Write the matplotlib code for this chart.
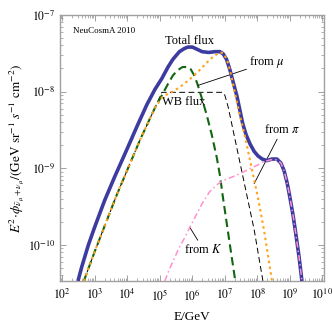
import numpy as np
import matplotlib
matplotlib.use("Agg")
import matplotlib.pyplot as plt
from matplotlib.ticker import FixedLocator, LogLocator, NullFormatter

plt.rcParams['font.family'] = ['Liberation Serif', 'DejaVu Serif']
plt.rcParams['mathtext.fontset'] = 'stix'

# log10(E/GeV), log10(E^2 phi)
total_logE = [2.48, 2.6, 2.8, 3.0, 3.3, 3.6, 4.0, 4.3, 4.6, 4.85, 5.06, 5.25, 5.4, 5.6, 5.75, 5.86, 6.0, 6.15, 6.3, 6.5, 6.7, 6.85,
              6.95, 7.05, 7.15, 7.25, 7.37, 7.46, 7.55, 7.65, 7.77, 7.9, 8.02, 8.15, 8.29, 8.45, 8.6, 8.72, 8.82, 8.92, 9.0,
              9.1, 9.18, 9.28, 9.37]
total_logF = [-10.47, -10.28, -10.0, -9.76, -9.42, -9.12, -8.74, -8.45, -8.17, -7.97, -7.83, -7.68, -7.58, -7.48, -7.44, -7.42,
              -7.42, -7.45, -7.48, -7.49, -7.48, -7.48, -7.51, -7.58, -7.71, -7.87, -8.06, -8.24, -8.42, -8.56, -8.68, -8.78,
              -8.84, -8.88, -8.90, -8.88, -8.88, -8.93, -9.03, -9.20, -9.38, -9.62, -9.85, -10.15, -10.47]

mu_logE = [2.66, 3.0, 3.68, 4.4, 4.85, 5.06, 5.25, 5.4, 5.55, 5.7, 5.85, 5.95, 6.07, 6.17, 6.3, 6.45, 6.6, 6.75, 6.85, 6.94,
           7.13, 7.32]
mu_logF = [-10.47, -10.08, -9.34, -8.62, -8.21, -8.05, -7.90, -7.79, -7.72, -7.68, -7.68, -7.71, -7.80, -7.92, -8.10, -8.32,
           -8.57, -8.86, -9.10, -9.38, -9.93, -10.47]

pi_logE = [2.66, 3.0, 3.68, 4.4, 4.85, 5.06, 5.2, 5.4, 5.65, 5.92, 6.2, 6.45, 6.65, 6.85, 6.95, 7.06, 7.13, 7.2, 7.3, 7.4,
           7.5, 7.6, 7.7, 7.8, 7.9, 8.0, 8.1, 8.2, 8.32, 8.45]
pi_logF = [-10.47, -10.08, -9.34, -8.62, -8.21, -8.08, -8.04, -8.00, -7.93, -7.84, -7.73, -7.62, -7.54, -7.49, -7.50, -7.58,
           -7.68, -7.80, -8.00, -8.20, -8.38, -8.55, -8.75, -8.95, -9.15, -9.35, -9.57, -9.80, -10.12, -10.47]

K_logE = [5.15, 5.3, 5.46, 5.6, 5.77, 5.92, 6.08, 6.3, 6.54, 6.8, 7.0, 7.25, 7.46, 7.8, 8.0, 8.17, 8.4, 8.6, 8.72, 8.82,
          8.92, 9.0, 9.1, 9.18, 9.28, 9.37]
K_logF = [-10.47, -10.31, -10.16, -10.03, -9.90, -9.77, -9.64, -9.46, -9.30, -9.20, -9.15, -9.11, -9.07, -9.00, -8.96, -8.92,
          -8.89, -8.89, -8.93, -9.03, -9.20, -9.38, -9.62, -9.85, -10.15, -10.47]

wb_logE = [2.66, 3.0, 3.68, 4.4, 4.85, 5.06, 6.94, 7.0, 7.1, 7.3, 7.6, 7.9, 8.17]
wb_logF = [-10.47, -10.08, -9.34, -8.62, -8.21, -8.01, -8.01, -8.05, -8.20, -8.60, -9.20, -9.80, -10.47]

x_tick_exps = [2, 3, 4, 5, 6, 7, 8, 9, 10]
y_tick_exps = [-10, -9, -8, -7]

def lin(a):
    return 10.0 ** np.asarray(a, dtype=float)

fig = plt.figure(figsize=(3.32, 3.23), dpi=100)
ax = fig.add_axes([0.181, 0.130, 0.795, 0.824])

ax.plot(lin(wb_logE), lin(wb_logF), color='black', lw=0.7, dashes=(6, 3.5), zorder=2)
ax.plot(lin(mu_logE), lin(mu_logF), color='#116611', lw=1.5, dashes=(4, 2.2), zorder=3)
ax.plot(lin(total_logE), lin(total_logF), color='#3c3ca0', lw=2.6, zorder=4, solid_capstyle='butt',
        solid_joinstyle='round')
ax.plot(lin(pi_logE), lin(pi_logF), color='#ffa31a', lw=1.5, dashes=(1.2, 1.6), zorder=5)
ax.plot(lin(K_logE), lin(K_logF), color='#ff8fcf', lw=1.1, dashes=(4, 2, 1, 2), zorder=6)

ax.set_xscale('log')
ax.set_yscale('log')
ax.set_xlim(10 ** 1.93, 10 ** 10.05)
ax.set_ylim(10 ** -10.47, 1e-7)

ax.xaxis.set_major_locator(FixedLocator(lin(x_tick_exps)))
ax.xaxis.set_minor_locator(LogLocator(base=10, subs=np.arange(2, 10), numticks=20))
ax.xaxis.set_minor_formatter(NullFormatter())
ax.yaxis.set_major_locator(FixedLocator(lin(y_tick_exps)))
ax.yaxis.set_minor_locator(LogLocator(base=10, subs=np.arange(2, 10), numticks=20))
ax.yaxis.set_minor_formatter(NullFormatter())
ax.set_xticklabels([r'$10^{%d}$' % e for e in x_tick_exps])
ax.set_yticklabels([r'$10^{%d}$' % e for e in y_tick_exps])

for s in ax.spines.values():
    s.set_color('#a0a0a0')
    s.set_linewidth(1.0)
ax.tick_params(which='both', direction='in', top=True, right=True, color='#909090', labelsize=8.5)
ax.tick_params(which='major', length=4, width=0.6)
ax.tick_params(which='minor', length=2, width=0.5)
ax.tick_params(axis='x', pad=5)

ax.set_xlabel('E/GeV', fontsize=9.5, labelpad=6)
ax.set_ylabel(r'$E^2\!\cdot\!\phi_{\bar{\nu}_\mu+\nu_\mu}/(\mathrm{GeV\ sr^{-1}}\ s^{-1}\ \mathrm{cm^{-2}})$', fontsize=9.5,
              labelpad=1)

ax.text(0.05, 0.955, 'NeuCosmA 2010', transform=ax.transAxes, fontsize=6.5, va='top', ha='left')
ax.text(10 ** 5.9, 10 ** -7.42, 'Total flux', fontsize=9, ha='center', va='bottom')
ax.text(10 ** 5.07, 10 ** -8.14, 'WB flux', fontsize=9, ha='left', va='center')

ax.annotate(r'from $\mu$', xy=(10 ** 6.17, 10 ** -7.92), xytext=(10 ** 7.75, 10 ** -7.62),
            fontsize=9, ha='left', va='center',
            arrowprops=dict(arrowstyle='-', color='black', lw=0.6, shrinkA=0, shrinkB=0))
ax.annotate(r'from $\pi$', xy=(10 ** 7.9, 10 ** -9.2), xytext=(10 ** 8.2, 10 ** -8.5),
            fontsize=9, ha='left', va='center',
            arrowprops=dict(arrowstyle='-', color='black', lw=0.6, shrinkA=0, shrinkB=0))
ax.annotate(r'from $K$', xy=(10 ** 5.92, 10 ** -9.77), xytext=(10 ** 5.75, 10 ** -10.06),
            fontsize=9, ha='left', va='center',
            arrowprops=dict(arrowstyle='-', color='black', lw=0.6, shrinkA=0, shrinkB=0))

fig.savefig('out.png', dpi=100)
